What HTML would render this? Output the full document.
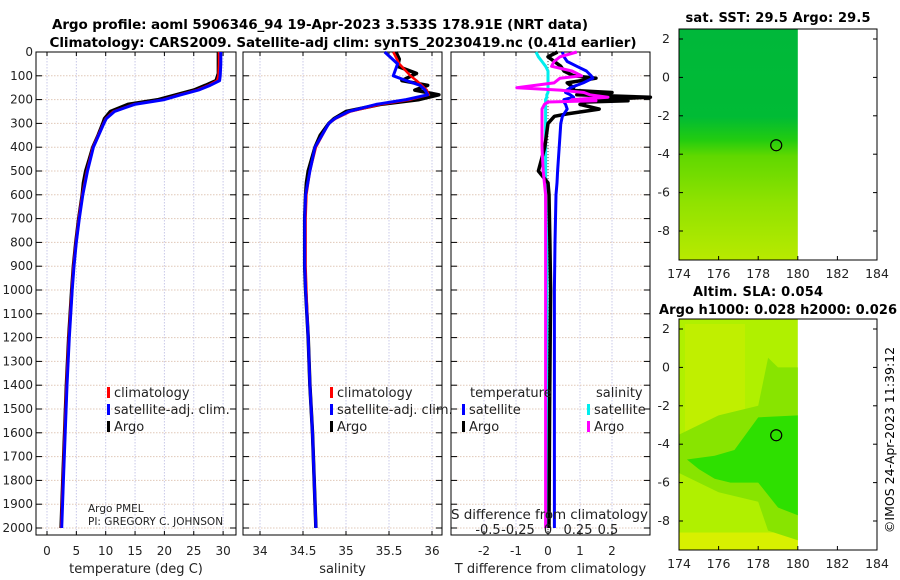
<!DOCTYPE html>
<html><head><meta charset="utf-8"><style>
body{margin:0;background:#fff;}
svg{display:block;font-family:"DejaVu Sans","Liberation Sans",sans-serif;}
</style></head><body>
<svg id="fig" width="900" height="580" viewBox="0 0 900 580">
<text x="320" y="29" font-size="13.5" font-weight="bold" text-anchor="middle" textLength="536">Argo profile: aoml 5906346_94 19-Apr-2023 3.533S 178.91E (NRT data)</text>
<text x="343" y="47" font-size="13.5" font-weight="bold" text-anchor="middle" textLength="587">Climatology: CARS2009. Satellite-adj clim: synTS_20230419.nc (0.41d earlier)</text>
<g id="g1"></g>
<g id="g2"></g>
<g id="g3"></g>
<g id="m1"></g>
<g id="m2"></g>
<text transform="translate(894,440) rotate(-90)" font-size="12.5" text-anchor="middle">©IMOS 24-Apr-2023 11:39:12</text>
</svg>
<script>
const depthTicks=[0,100,200,300,400,500,600,700,800,900,1000,1100,1200,1300,1400,1500,1600,1700,1800,1900,2000];
const tempTicks=[0,5,10,15,20,25,30];
const salTicks=[34,34.5,35,35.5,36];
const dTTicks=[-2,-1,0,1,2];
const dSTicks=[-0.5,-0.25,0,0.25,0.5];
const dSLabels=["-0.5","-0.25","0","0.25","0.5"];
const depthClim=[0,50,100,120,140,160,180,200,220,250,280,300,400,500,600,700,800,900,1000,1200,1400,1600,1800,2000];
const tempClim=[29.3,29.3,29.2,29.0,27.5,25.5,22.5,19.8,14.7,11.3,10.0,9.6,7.8,6.8,6.0,5.4,4.9,4.5,4.2,3.7,3.3,3.0,2.7,2.4];
const tempSat=[29.6,29.6,29.5,29.4,27.8,25.8,22.8,20.0,14.9,11.5,10.1,9.7,7.9,6.9,6.1,5.5,5.0,4.6,4.3,3.8,3.4,3.1,2.8,2.5];
const depthArgo=[0,30,60,90,120,140,160,180,200,220,250,280,300,350,400,450,500,550,600,700,800,900,1000,1200,1400,1600,1800,2000];
const tempArgo=[29.2,29.2,29.2,29.2,28.8,27.0,25.0,22.0,19.0,13.8,10.8,9.8,9.5,8.7,7.8,7.2,6.6,6.2,6.0,5.4,4.9,4.5,4.2,3.7,3.3,3.0,2.7,2.4];
const salClim=[35.55,35.62,35.75,35.82,35.88,35.94,35.96,35.75,35.4,35.05,34.88,34.8,34.65,34.58,34.54,34.53,34.53,34.53,34.54,34.56,34.58,34.61,34.63,34.65];
const salSat=[35.45,35.6,35.55,35.7,35.86,35.92,35.95,35.7,35.35,35.03,34.87,34.8,34.64,34.58,34.53,34.52,34.52,34.52,34.53,34.56,34.58,34.61,34.63,34.65];
const salArgo=[35.58,35.62,35.6,35.82,35.65,35.95,35.8,36.08,35.85,35.4,35.0,34.86,34.8,34.7,34.64,34.6,34.56,34.54,34.53,34.52,34.52,34.52,34.53,34.56,34.58,34.61,34.63,34.65];
const depthDiff=[0,20,40,60,80,100,110,130,150,160,170,180,190,200,205,210,220,240,260,270,300,400,500,550,600,800,1000,1500,2000];
const dTSat=[0.45,0.5,0.6,0.9,1.2,1.35,1.4,1.1,0.7,0.6,0.55,0.7,0.8,0.5,0.5,0.5,0.55,0.6,0.5,0.45,0.4,0.35,0.3,0.28,0.25,0.22,0.2,0.2,0.2];
const dTArgo=[0.3,0.0,0.2,0.4,0.5,0.8,1.5,0.6,0.8,0.6,2.0,0.9,3.2,1.5,2.5,1.2,1.0,1.6,0.6,0.2,0.0,-0.1,-0.3,0.0,0.03,0.06,0.08,0.05,0.03];
const dSSat=[-0.1,-0.08,-0.05,-0.02,0,0.0,0.0,0.0,0.0,0.0,0.0,-0.01,-0.01,-0.02,-0.02,-0.02,-0.02,-0.02,-0.02,-0.02,-0.02,-0.02,-0.02,-0.02,-0.02,-0.01,-0.01,-0.01,-0.01];
const dSArgo=[0.24,0.1,0.05,0.03,0.2,0.28,0.1,0.05,-0.26,0.1,0.3,0.35,0.5,0.2,0.4,0.0,-0.03,-0.05,-0.05,-0.05,-0.05,-0.05,-0.04,-0.03,-0.02,-0.02,-0.02,-0.02,-0.02];
const mapXTicks=[174,176,178,180,182,184];
const mapYTicks=[2,0,-2,-4,-6,-8];
const argoLon=[178.91];
const argoLat=[-3.533];

const NS="http://www.w3.org/2000/svg";
function el(p,tag,attrs){const e=document.createElementNS(NS,tag);for(const k in attrs)e.setAttribute(k,attrs[k]);p.appendChild(e);return e;}
const Y0=52,Y1=535;
const yD=d=>52+d*0.238;
function panel(g,x0,x1,xs,ticks,labels,xlabel,showY){
  el(g,'rect',{x:x0,y:Y0,width:x1-x0,height:Y1-Y0,fill:'#fff'});
  ticks.forEach((t,i)=>{const x=xs(t);
    const gl=el(g,'line',{x1:x,x2:x,y1:Y0,y2:Y1,stroke:'#c8c8e8','stroke-dasharray':'1.5,1.5','stroke-width':1});
    
    el(g,'line',{x1:x,x2:x,y1:Y1,y2:Y1-4,stroke:'#000'});el(g,'line',{x1:x,x2:x,y1:Y0,y2:Y0+4,stroke:'#000'});
    const tx=el(g,'text',{x:x,y:555,'font-size':12,'text-anchor':'middle',fill:'#222'});tx.textContent=labels[i];
    });
  depthTicks.forEach(d=>{const y=yD(d);
    el(g,'line',{x1:x0,x2:x1,y1:y,y2:y,stroke:'#e0c8b8','stroke-dasharray':'1.5,1.5'});
    el(g,'line',{x1:x0,x2:x0+6,y1:y,y2:y,stroke:'#000'});el(g,'line',{x1:x1-6,x2:x1,y1:y,y2:y,stroke:'#000'});
    if(showY){const t=el(g,'text',{x:x0-3,y:y+4,'font-size':12,'text-anchor':'end',fill:'#222'});t.textContent=d;
      }});
  el(g,'rect',{x:x0,y:Y0,width:x1-x0,height:Y1-Y0,fill:'none',stroke:'#000'});
  if(xlabel){const t=el(g,'text',{x:(x0+x1)/2,y:573,'font-size':13,'text-anchor':'middle',fill:'#222'});t.textContent=xlabel;
    }
}
function line(g,xs,vals,deps,color,w,name){
  const pts=vals.map((v,i)=>xs(v).toFixed(1)+','+yD(deps[i]).toFixed(1)).join(' ');
  const p=el(g,'polyline',{points:pts,fill:'none',stroke:color,'stroke-width':w,'stroke-linejoin':'round'});
  
}
function legend(g,x,y,items){items.forEach((it,i)=>{const yy=y+i*17;
  el(g,'rect',{x:x,y:yy-10,width:3,height:11,fill:it[1]});
  const t=el(g,'text',{x:x+7,y:yy,'font-size':13,fill:'#222'});t.textContent=it[0];
  });}

// Panel 1
const g1=document.getElementById('g1');
const xT=v=>47+v*5.87;
panel(g1,36,236,xT,tempTicks,tempTicks.map(String),'temperature (deg C)',true);
line(g1,xT,tempArgo,depthArgo,'#000',3.5,'temperature-argo-line');
line(g1,xT,tempClim,depthClim,'#f00',2.5,'temperature-climatology-line');
line(g1,xT,tempSat,depthClim,'#00f',3,'temperature-satellite-line');
legend(g1,107,397,[['climatology','#f00'],['satellite-adj. clim.','#00f'],['Argo','#000']]);
let t=el(g1,'text',{x:88,y:512,'font-size':10.5,fill:'#222'});t.textContent='Argo PMEL';

t=el(g1,'text',{x:88,y:525,'font-size':10.5,fill:'#222'});t.textContent='PI: GREGORY C. JOHNSON';


// Panel 2
const g2=document.getElementById('g2');
const xS=v=>260+(v-34)*86;
panel(g2,243,442,xS,salTicks,salTicks.map(String),'salinity',false);
line(g2,xS,salArgo,depthArgo,'#000',3.5,'salinity-argo-line');
line(g2,xS,salClim,depthClim,'#f00',2.5,'salinity-climatology-line');
line(g2,xS,salSat,depthClim,'#00f',3,'salinity-satellite-line');
legend(g2,330,397,[['climatology','#f00'],['satellite-adj. clim.','#00f'],['Argo','#000']]);

// Panel 3
const g3=document.getElementById('g3');
const xDT=v=>548+v*32;
const xDS=v=>548+v*120;
panel(g3,451,650,xDT,dTTicks,dTTicks.map(String),'T difference from climatology',false);
el(g3,'line',{x1:548,x2:548,y1:Y0,y2:Y1,stroke:'#444','stroke-dasharray':'1,2'});
line(g3,xDS,dSSat,depthDiff,'#0ee',3,'salinity-diff-satellite-line');
line(g3,xDT,dTArgo,depthDiff,'#000',3.5,'temperature-diff-argo-line');
line(g3,xDT,dTSat,depthDiff,'#00f',3,'temperature-diff-satellite-line');
line(g3,xDS,dSArgo,depthDiff,'#f0f',3,'salinity-diff-argo-line');
t=el(g3,'text',{x:470,y:397,'font-size':13,fill:'#222'});t.textContent='temperature';

t=el(g3,'text',{x:596,y:397,'font-size':13,fill:'#222'});t.textContent='salinity';

legend(g3,462,414,[['satellite','#00f'],['Argo','#000']]);
legend(g3,587,414,[['satellite','#0ee'],['Argo','#f0f']]);
t=el(g3,'text',{x:451,y:519,'font-size':13.5,fill:'#222',textLength:197});t.textContent='S difference from climatology';

dSTicks.forEach((v,i)=>{const tt=el(g3,'text',{x:xDS(v),y:534,'font-size':13,'text-anchor':'middle',fill:'#222'});tt.textContent=dSLabels[i];
  });

// Maps
function map(g,top,bottom,y2,title1,title2,bands){
  const X0=679,X1=877;
  const xm=v=>679+(v-174)*19.8;
  const ym=v=>y2-(v-2)*19.2;
  bands(g,xm,ym,top,bottom);
  el(g,'rect',{x:X0,y:top,width:X1-X0,height:bottom-top,fill:'none',stroke:'#000'});
  mapXTicks.forEach(v=>{el(g,'line',{x1:xm(v),x2:xm(v),y1:bottom,y2:bottom-4,stroke:'#000'});
    const tt=el(g,'text',{x:xm(v),y:bottom+18,'font-size':12.5,'text-anchor':'middle',fill:'#222'});tt.textContent=v;
    });
  mapYTicks.forEach(v=>{el(g,'line',{x1:X0,x2:X0+4,y1:ym(v),y2:ym(v),stroke:'#000'});el(g,'line',{x1:X1-4,x2:X1,y1:ym(v),y2:ym(v),stroke:'#000'});
    const tt=el(g,'text',{x:670,y:ym(v)+4,'font-size':12.5,'text-anchor':'end',fill:'#222'});tt.textContent=v;
    });
  const c=el(g,'circle',{cx:xm(argoLon[0]),cy:ym(argoLat[0]),r:5.5,fill:'none',stroke:'#000','stroke-width':1.2});
  
  title1.forEach(([txt,x,y,len])=>{const tt=el(g,'text',{x:x,y:y,'font-size':13,'font-weight':'bold','text-anchor':'middle',textLength:len});tt.textContent=txt;
    });
}
map(document.getElementById('m1'),29,260,39,[['sat. SST: 29.5 Argo: 29.5',778,22,185]],null,(g,xm,ym,top,bot)=>{
  const gr=el(g,'linearGradient',{id:'sst',x1:0,y1:0,x2:0,y2:1});
  [[0,'#00b83a'],[0.38,'#00bb35'],[0.48,'#22cc10'],[0.55,'#60d800'],[0.75,'#90e200'],[1,'#b8ea00']].forEach(s=>el(gr,'stop',{offset:s[0],'stop-color':s[1]}));
  const r=el(g,'rect',{x:679,y:top,width:xm(180)-679,height:bot-top,fill:'url(#sst)'});
  
});
map(document.getElementById('m2'),319,550,329,[['Altim. SLA: 0.054',758,296,130],['Argo h1000: 0.028 h2000: 0.026',778,314,238]],null,(g,xm,ym,top,bot)=>{
  const r=el(g,'rect',{x:679,y:top,width:xm(180)-679,height:bot-top,fill:'#b0f000'});
  
  el(g,'rect',{x:679,y:ym(-8.6),width:xm(180)-679,height:bot-ym(-8.6),fill:'#d8f000'});
  el(g,'rect',{x:685,y:top+5,width:60,height:120,fill:'#c8ee00',opacity:0.7});
  el(g,'polygon',{points:[[179,0],[180,0],[180,-9],[178.5,-8.5],[178,-7],[176,-6.5],[174,-5.5],[174,-3.5],[176,-2.5],[178,-2],[178.5,0.5]].map(p=>xm(p[0])+','+ym(p[1])).join(' '),fill:'#88e400'});
  el(g,'polygon',{points:[[178,-2.6],[180,-2.5],[180,-7.7],[179,-7.3],[178,-6],[176.6,-6],[175.8,-5.8],[175,-5.3],[174.4,-4.8],[175.8,-4.6],[176.8,-4.3]].map(p=>xm(p[0])+','+ym(p[1])).join(' '),fill:'#2ee000'});
});
</script>
</body></html>
